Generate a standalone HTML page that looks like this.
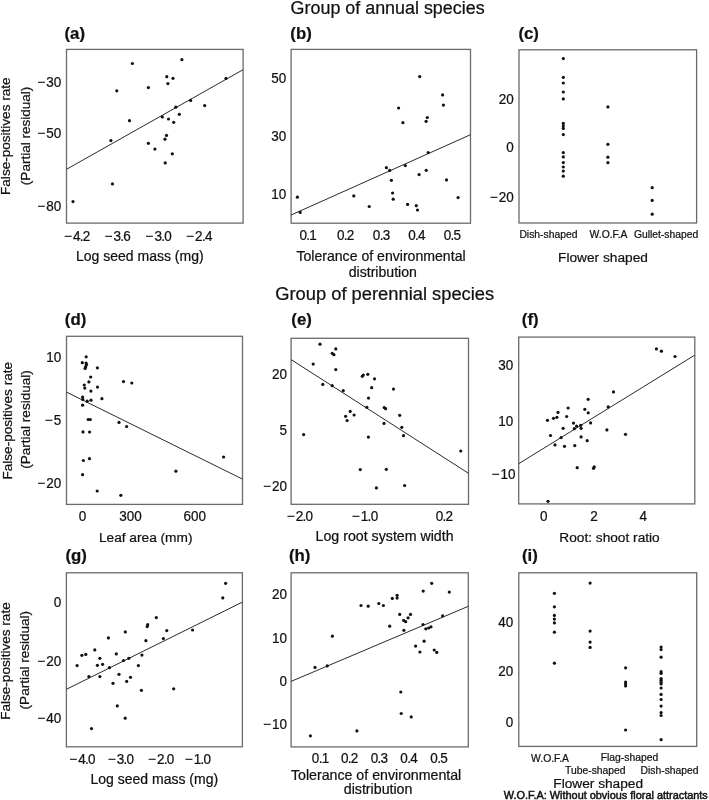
<!DOCTYPE html>
<html><head><meta charset="utf-8"><title>Figure</title>
<style>html,body{margin:0;padding:0;background:#fff;}body{width:709px;height:800px;overflow:hidden;font-family:"Liberation Sans", sans-serif;}svg{display:block;filter:grayscale(1);}text{stroke:#111;stroke-width:0.22px;}</style>
</head><body>
<svg width="709" height="800" viewBox="0 0 709 800" font-family='"Liberation Sans", sans-serif' fill="#111"><rect x="0" y="0" width="709" height="800" fill="#fff"/>
<text x="290.6" y="13.8" font-size="18" textLength="194" lengthAdjust="spacingAndGlyphs">Group of annual species</text>
<text x="275.2" y="300.1" font-size="18" textLength="219" lengthAdjust="spacingAndGlyphs">Group of perennial species</text>
<g><rect x="66.5" y="49.4" width="176.6" height="173.7" fill="none" stroke="#6a6a6a" stroke-width="1.3"/><line x1="66.5" y1="169.3" x2="243.1" y2="69.7" stroke="#2a2a2a" stroke-width="1"/><circle cx="132.4" cy="63.5" r="1.6"/><circle cx="116.8" cy="90.8" r="1.6"/><circle cx="148.4" cy="87.6" r="1.6"/><circle cx="129.5" cy="120.7" r="1.6"/><circle cx="110.9" cy="140.6" r="1.6"/><circle cx="148.4" cy="143.3" r="1.6"/><circle cx="181.9" cy="59.7" r="1.6"/><circle cx="166.8" cy="76.7" r="1.6"/><circle cx="173.0" cy="78.3" r="1.6"/><circle cx="167.9" cy="83.6" r="1.6"/><circle cx="226.0" cy="78.4" r="1.6"/><circle cx="190.6" cy="100.4" r="1.6"/><circle cx="175.8" cy="107.2" r="1.6"/><circle cx="204.7" cy="105.6" r="1.6"/><circle cx="179.3" cy="114.3" r="1.6"/><circle cx="162.3" cy="116.9" r="1.6"/><circle cx="168.5" cy="119.0" r="1.6"/><circle cx="173.7" cy="122.3" r="1.6"/><circle cx="166.5" cy="135.4" r="1.6"/><circle cx="165.0" cy="139.2" r="1.6"/><circle cx="154.9" cy="149.1" r="1.6"/><circle cx="112.5" cy="183.9" r="1.6"/><circle cx="73.0" cy="201.6" r="1.6"/><circle cx="172.3" cy="153.8" r="1.6"/><circle cx="165.2" cy="162.9" r="1.6"/><text transform="translate(61.3,87.25) scale(1,1.1)" font-size="13.5" text-anchor="end">−<tspan dx="0.9">30</tspan></text><text transform="translate(61.3,137.85) scale(1,1.1)" font-size="13.5" text-anchor="end">−<tspan dx="0.9">50</tspan></text><text transform="translate(61.3,211.25) scale(1,1.1)" font-size="13.5" text-anchor="end">−<tspan dx="0.9">80</tspan></text><text transform="translate(77.3,241.2) scale(1,1.1)" font-size="13.5" text-anchor="middle">−<tspan dx="0.9">4</tspan><tspan dx="-0.7">.</tspan><tspan dx="-0.7">2</tspan></text><text transform="translate(117.8,241.2) scale(1,1.1)" font-size="13.5" text-anchor="middle">−<tspan dx="0.9">3</tspan><tspan dx="-0.7">.</tspan><tspan dx="-0.7">6</tspan></text><text transform="translate(158.7,241.2) scale(1,1.1)" font-size="13.5" text-anchor="middle">−<tspan dx="0.9">3</tspan><tspan dx="-0.7">.</tspan><tspan dx="-0.7">0</tspan></text><text transform="translate(199.4,241.2) scale(1,1.1)" font-size="13.5" text-anchor="middle">−<tspan dx="0.9">2</tspan><tspan dx="-0.7">.</tspan><tspan dx="-0.7">4</tspan></text><text x="139.8" y="261.0" font-size="14.0" text-anchor="middle">Log seed mass (mg)</text><text x="64.5" y="38.8" font-size="16.8" font-weight="bold">(a)</text></g>
<g><rect x="291.1" y="49.4" width="179.4" height="173.8" fill="none" stroke="#6a6a6a" stroke-width="1.3"/><line x1="291.1" y1="215.0" x2="470.5" y2="134.7" stroke="#2a2a2a" stroke-width="1"/><circle cx="419.7" cy="76.6" r="1.6"/><circle cx="442.6" cy="94.9" r="1.6"/><circle cx="443.4" cy="105.1" r="1.6"/><circle cx="398.6" cy="108.0" r="1.6"/><circle cx="427.3" cy="117.5" r="1.6"/><circle cx="426.1" cy="121.3" r="1.6"/><circle cx="402.9" cy="122.7" r="1.6"/><circle cx="297.4" cy="197.2" r="1.6"/><circle cx="300.2" cy="212.4" r="1.6"/><circle cx="353.8" cy="195.9" r="1.6"/><circle cx="369.2" cy="206.5" r="1.6"/><circle cx="428.2" cy="152.6" r="1.6"/><circle cx="405.3" cy="165.6" r="1.6"/><circle cx="386.4" cy="167.7" r="1.6"/><circle cx="389.7" cy="170.4" r="1.6"/><circle cx="426.2" cy="170.3" r="1.6"/><circle cx="419.1" cy="174.6" r="1.6"/><circle cx="391.4" cy="180.3" r="1.6"/><circle cx="446.5" cy="179.9" r="1.6"/><circle cx="392.6" cy="193.0" r="1.6"/><circle cx="393.2" cy="199.2" r="1.6"/><circle cx="458.1" cy="197.6" r="1.6"/><circle cx="407.6" cy="204.4" r="1.6"/><circle cx="416.3" cy="205.7" r="1.6"/><circle cx="417.5" cy="210.0" r="1.6"/><text transform="translate(286.2,82.65) scale(1,1.1)" font-size="13.5" text-anchor="end">50</text><text transform="translate(286.2,140.65) scale(1,1.1)" font-size="13.5" text-anchor="end">30</text><text transform="translate(286.2,198.75) scale(1,1.1)" font-size="13.5" text-anchor="end">10</text><text transform="translate(308.2,239.6) scale(1,1.1)" font-size="13.5" text-anchor="middle"><tspan dx="0">0</tspan><tspan dx="-0.7">.</tspan><tspan dx="-0.7">1</tspan></text><text transform="translate(345.7,239.6) scale(1,1.1)" font-size="13.5" text-anchor="middle"><tspan dx="0">0</tspan><tspan dx="-0.7">.</tspan><tspan dx="-0.7">2</tspan></text><text transform="translate(381.5,239.6) scale(1,1.1)" font-size="13.5" text-anchor="middle"><tspan dx="0">0</tspan><tspan dx="-0.7">.</tspan><tspan dx="-0.7">3</tspan></text><text transform="translate(416.9,239.6) scale(1,1.1)" font-size="13.5" text-anchor="middle"><tspan dx="0">0</tspan><tspan dx="-0.7">.</tspan><tspan dx="-0.7">4</tspan></text><text transform="translate(452.4,239.6) scale(1,1.1)" font-size="13.5" text-anchor="middle"><tspan dx="0">0</tspan><tspan dx="-0.7">.</tspan><tspan dx="-0.7">5</tspan></text><text x="381.0" y="260.8" font-size="14.1" text-anchor="middle">Tolerance of environmental</text><text x="382.8" y="276.8" font-size="14.1" text-anchor="middle">distribution</text><text x="290.3" y="38.8" font-size="16.8" font-weight="bold">(b)</text></g>
<g><rect x="519.0" y="49.8" width="177.6" height="173.2" fill="none" stroke="#6a6a6a" stroke-width="1.3"/><circle cx="563.3" cy="58.6" r="1.6"/><circle cx="563.3" cy="77.3" r="1.6"/><circle cx="563.3" cy="83.0" r="1.6"/><circle cx="563.3" cy="92.0" r="1.6"/><circle cx="563.3" cy="98.9" r="1.6"/><circle cx="563.3" cy="123.4" r="1.6"/><circle cx="563.3" cy="126.0" r="1.6"/><circle cx="563.3" cy="128.4" r="1.6"/><circle cx="563.3" cy="134.6" r="1.6"/><circle cx="563.3" cy="152.6" r="1.6"/><circle cx="563.3" cy="156.9" r="1.6"/><circle cx="563.3" cy="162.6" r="1.6"/><circle cx="563.3" cy="167.0" r="1.6"/><circle cx="563.3" cy="171.1" r="1.6"/><circle cx="563.3" cy="176.2" r="1.6"/><circle cx="607.9" cy="106.9" r="1.6"/><circle cx="607.9" cy="144.3" r="1.6"/><circle cx="607.9" cy="157.2" r="1.6"/><circle cx="607.9" cy="162.7" r="1.6"/><circle cx="652.2" cy="187.7" r="1.6"/><circle cx="652.2" cy="200.4" r="1.6"/><circle cx="652.2" cy="214.2" r="1.6"/><text transform="translate(513.7,103.85) scale(1,1.1)" font-size="13.5" text-anchor="end">20</text><text transform="translate(513.7,152.45) scale(1,1.1)" font-size="13.5" text-anchor="end">0</text><text transform="translate(513.7,202.25) scale(1,1.1)" font-size="13.5" text-anchor="end">−<tspan dx="0.9">20</tspan></text><text x="519.4" y="237.6" font-size="10.35" text-anchor="start">Dish-shaped</text><text x="589.6" y="237.6" font-size="10.35" text-anchor="start">W.O.F.A</text><text x="633.9" y="237.6" font-size="10.35" text-anchor="start">Gullet-shaped</text><text x="603.0" y="262.0" font-size="13.7" text-anchor="middle">Flower shaped</text><text x="518.4" y="38.8" font-size="16.8" font-weight="bold">(c)</text></g>
<g><rect x="66.5" y="336.3" width="176.0" height="168.1" fill="none" stroke="#6a6a6a" stroke-width="1.3"/><line x1="66.5" y1="392.1" x2="242.5" y2="479.1" stroke="#2a2a2a" stroke-width="1"/><circle cx="86.2" cy="356.8" r="1.6"/><circle cx="82.3" cy="362.7" r="1.6"/><circle cx="86.1" cy="363.1" r="1.6"/><circle cx="86.5" cy="364.6" r="1.6"/><circle cx="85.7" cy="366.7" r="1.6"/><circle cx="85.1" cy="368.4" r="1.6"/><circle cx="97.4" cy="367.8" r="1.6"/><circle cx="90.7" cy="377.0" r="1.6"/><circle cx="88.9" cy="381.9" r="1.6"/><circle cx="123.5" cy="381.6" r="1.6"/><circle cx="131.8" cy="383.0" r="1.6"/><circle cx="84.3" cy="385.0" r="1.6"/><circle cx="84.8" cy="388.1" r="1.6"/><circle cx="97.5" cy="387.1" r="1.6"/><circle cx="90.9" cy="391.1" r="1.6"/><circle cx="82.6" cy="397.0" r="1.6"/><circle cx="82.8" cy="399.4" r="1.6"/><circle cx="101.9" cy="398.7" r="1.6"/><circle cx="87.2" cy="401.2" r="1.6"/><circle cx="91.0" cy="400.2" r="1.6"/><circle cx="82.6" cy="405.2" r="1.6"/><circle cx="88.2" cy="419.5" r="1.6"/><circle cx="90.3" cy="419.5" r="1.6"/><circle cx="119.0" cy="422.4" r="1.6"/><circle cx="126.6" cy="426.5" r="1.6"/><circle cx="83.0" cy="431.9" r="1.6"/><circle cx="89.6" cy="432.0" r="1.6"/><circle cx="83.4" cy="460.5" r="1.6"/><circle cx="89.5" cy="458.7" r="1.6"/><circle cx="82.6" cy="474.7" r="1.6"/><circle cx="97.2" cy="491.0" r="1.6"/><circle cx="120.8" cy="495.3" r="1.6"/><circle cx="223.6" cy="457.0" r="1.6"/><circle cx="175.9" cy="471.2" r="1.6"/><text transform="translate(61.3,361.55) scale(1,1.1)" font-size="13.5" text-anchor="end">10</text><text transform="translate(61.3,425.05) scale(1,1.1)" font-size="13.5" text-anchor="end">−<tspan dx="0.9">5</tspan></text><text transform="translate(61.3,488.45) scale(1,1.1)" font-size="13.5" text-anchor="end">−<tspan dx="0.9">20</tspan></text><text transform="translate(82.4,521.0) scale(1,1.1)" font-size="13.5" text-anchor="middle">0</text><text transform="translate(130.4,521.0) scale(1,1.1)" font-size="13.5" text-anchor="middle">300</text><text transform="translate(194.7,521.0) scale(1,1.1)" font-size="13.5" text-anchor="middle">600</text><text x="145.7" y="541.5" font-size="13.7" text-anchor="middle">Leaf area (mm)</text><text x="64.8" y="324.8" font-size="16.8" font-weight="bold">(d)</text></g>
<g><rect x="291.1" y="338.3" width="177.4" height="166.0" fill="none" stroke="#6a6a6a" stroke-width="1.3"/><line x1="291.1" y1="359.6" x2="468.5" y2="473.3" stroke="#2a2a2a" stroke-width="1"/><circle cx="320.0" cy="344.2" r="1.6"/><circle cx="335.8" cy="348.9" r="1.6"/><circle cx="332.2" cy="353.3" r="1.6"/><circle cx="333.9" cy="354.7" r="1.6"/><circle cx="313.2" cy="364.1" r="1.6"/><circle cx="335.8" cy="369.6" r="1.6"/><circle cx="362.3" cy="376.3" r="1.6"/><circle cx="363.3" cy="375.1" r="1.6"/><circle cx="367.8" cy="374.3" r="1.6"/><circle cx="374.5" cy="378.8" r="1.6"/><circle cx="322.8" cy="384.4" r="1.6"/><circle cx="332.2" cy="385.7" r="1.6"/><circle cx="343.3" cy="390.6" r="1.6"/><circle cx="371.7" cy="387.7" r="1.6"/><circle cx="368.5" cy="398.1" r="1.6"/><circle cx="366.8" cy="407.3" r="1.6"/><circle cx="384.2" cy="407.6" r="1.6"/><circle cx="385.6" cy="408.7" r="1.6"/><circle cx="350.2" cy="411.4" r="1.6"/><circle cx="354.1" cy="415.0" r="1.6"/><circle cx="345.6" cy="416.3" r="1.6"/><circle cx="347.1" cy="420.5" r="1.6"/><circle cx="384.0" cy="423.4" r="1.6"/><circle cx="393.5" cy="389.1" r="1.6"/><circle cx="399.7" cy="415.3" r="1.6"/><circle cx="401.8" cy="427.3" r="1.6"/><circle cx="303.6" cy="434.6" r="1.6"/><circle cx="368.4" cy="437.1" r="1.6"/><circle cx="360.3" cy="469.6" r="1.6"/><circle cx="376.4" cy="487.9" r="1.6"/><circle cx="403.5" cy="435.7" r="1.6"/><circle cx="460.8" cy="451.0" r="1.6"/><circle cx="386.3" cy="469.3" r="1.6"/><circle cx="404.6" cy="485.5" r="1.6"/><text transform="translate(287.0,379.25) scale(1,1.1)" font-size="13.5" text-anchor="end">20</text><text transform="translate(287.0,434.65) scale(1,1.1)" font-size="13.5" text-anchor="end">5</text><text transform="translate(287.0,491.25) scale(1,1.1)" font-size="13.5" text-anchor="end">−<tspan dx="0.9">20</tspan></text><text transform="translate(300.0,520.5) scale(1,1.1)" font-size="13.5" text-anchor="middle">−<tspan dx="0.9">2</tspan><tspan dx="-0.7">.</tspan><tspan dx="-0.7">0</tspan></text><text transform="translate(365.1,520.5) scale(1,1.1)" font-size="13.5" text-anchor="middle">−<tspan dx="0.9">1</tspan><tspan dx="-0.7">.</tspan><tspan dx="-0.7">0</tspan></text><text transform="translate(444.4,520.5) scale(1,1.1)" font-size="13.5" text-anchor="middle"><tspan dx="0">0</tspan><tspan dx="-0.7">.</tspan><tspan dx="-0.7">2</tspan></text><text x="384.6" y="540.7" font-size="14.2" text-anchor="middle">Log root system width</text><text x="291.3" y="324.8" font-size="16.8" font-weight="bold">(e)</text></g>
<g><rect x="518.7" y="337.1" width="176.1" height="166.8" fill="none" stroke="#6a6a6a" stroke-width="1.3"/><line x1="518.7" y1="463.7" x2="694.8" y2="355.1" stroke="#2a2a2a" stroke-width="1"/><circle cx="588.2" cy="399.3" r="1.6"/><circle cx="568.1" cy="408.0" r="1.6"/><circle cx="584.8" cy="409.3" r="1.6"/><circle cx="558.0" cy="412.4" r="1.6"/><circle cx="588.2" cy="412.8" r="1.6"/><circle cx="566.7" cy="416.5" r="1.6"/><circle cx="556.9" cy="417.3" r="1.6"/><circle cx="553.5" cy="418.3" r="1.6"/><circle cx="547.5" cy="420.3" r="1.6"/><circle cx="608.2" cy="406.9" r="1.6"/><circle cx="590.6" cy="422.9" r="1.6"/><circle cx="573.5" cy="423.1" r="1.6"/><circle cx="576.6" cy="426.2" r="1.6"/><circle cx="580.7" cy="425.3" r="1.6"/><circle cx="563.1" cy="428.3" r="1.6"/><circle cx="574.3" cy="428.7" r="1.6"/><circle cx="581.1" cy="428.3" r="1.6"/><circle cx="606.9" cy="429.9" r="1.6"/><circle cx="656.4" cy="348.9" r="1.6"/><circle cx="661.4" cy="351.2" r="1.6"/><circle cx="675.0" cy="356.5" r="1.6"/><circle cx="613.5" cy="391.9" r="1.6"/><circle cx="550.5" cy="435.5" r="1.6"/><circle cx="561.1" cy="437.6" r="1.6"/><circle cx="581.1" cy="436.9" r="1.6"/><circle cx="587.2" cy="440.7" r="1.6"/><circle cx="555.0" cy="444.9" r="1.6"/><circle cx="564.5" cy="446.3" r="1.6"/><circle cx="574.8" cy="445.6" r="1.6"/><circle cx="577.2" cy="467.7" r="1.6"/><circle cx="593.5" cy="468.3" r="1.6"/><circle cx="594.2" cy="466.9" r="1.6"/><circle cx="548.0" cy="501.3" r="1.6"/><circle cx="625.5" cy="434.3" r="1.6"/><text transform="translate(513.2,369.85) scale(1,1.1)" font-size="13.5" text-anchor="end">30</text><text transform="translate(513.2,425.55) scale(1,1.1)" font-size="13.5" text-anchor="end">10</text><text transform="translate(515.6,479.25) scale(1,1.1)" font-size="13.5" text-anchor="end">−<tspan dx="0.9">10</tspan></text><text transform="translate(543.7,520.8) scale(1,1.1)" font-size="13.5" text-anchor="middle">0</text><text transform="translate(594.0,520.8) scale(1,1.1)" font-size="13.5" text-anchor="middle">2</text><text transform="translate(643.3,520.8) scale(1,1.1)" font-size="13.5" text-anchor="middle">4</text><text x="609.5" y="541.5" font-size="13.7" text-anchor="middle">Root: shoot ratio</text><text x="521.8" y="324.8" font-size="16.8" font-weight="bold">(f)</text></g>
<g><rect x="66.4" y="572.8" width="176.0" height="174.0" fill="none" stroke="#6a6a6a" stroke-width="1.3"/><line x1="66.4" y1="689.3" x2="242.4" y2="602.1" stroke="#2a2a2a" stroke-width="1"/><circle cx="156.3" cy="617.6" r="1.6"/><circle cx="147.7" cy="624.7" r="1.6"/><circle cx="147.2" cy="626.6" r="1.6"/><circle cx="125.3" cy="631.9" r="1.6"/><circle cx="108.4" cy="637.9" r="1.6"/><circle cx="145.9" cy="640.7" r="1.6"/><circle cx="94.8" cy="649.9" r="1.6"/><circle cx="81.9" cy="655.3" r="1.6"/><circle cx="85.8" cy="654.4" r="1.6"/><circle cx="116.3" cy="653.9" r="1.6"/><circle cx="141.9" cy="655.1" r="1.6"/><circle cx="99.9" cy="658.3" r="1.6"/><circle cx="128.8" cy="658.3" r="1.6"/><circle cx="123.5" cy="660.5" r="1.6"/><circle cx="225.6" cy="583.3" r="1.6"/><circle cx="222.8" cy="597.9" r="1.6"/><circle cx="166.8" cy="630.6" r="1.6"/><circle cx="163.4" cy="638.6" r="1.6"/><circle cx="192.6" cy="630.0" r="1.6"/><circle cx="77.1" cy="665.6" r="1.6"/><circle cx="97.4" cy="665.3" r="1.6"/><circle cx="102.6" cy="664.3" r="1.6"/><circle cx="109.4" cy="667.7" r="1.6"/><circle cx="138.4" cy="665.6" r="1.6"/><circle cx="88.9" cy="676.6" r="1.6"/><circle cx="99.9" cy="676.6" r="1.6"/><circle cx="119.0" cy="674.3" r="1.6"/><circle cx="130.5" cy="677.3" r="1.6"/><circle cx="126.7" cy="681.4" r="1.6"/><circle cx="113.0" cy="683.3" r="1.6"/><circle cx="141.4" cy="690.3" r="1.6"/><circle cx="117.3" cy="705.9" r="1.6"/><circle cx="125.2" cy="718.2" r="1.6"/><circle cx="91.5" cy="728.6" r="1.6"/><circle cx="173.7" cy="688.8" r="1.6"/><text transform="translate(61.3,607.25) scale(1,1.1)" font-size="13.5" text-anchor="end">0</text><text transform="translate(61.3,665.55) scale(1,1.1)" font-size="13.5" text-anchor="end">−<tspan dx="0.9">20</tspan></text><text transform="translate(61.3,723.05) scale(1,1.1)" font-size="13.5" text-anchor="end">−<tspan dx="0.9">40</tspan></text><text transform="translate(82.5,764.2) scale(1,1.1)" font-size="13.5" text-anchor="middle">−<tspan dx="0.9">4</tspan><tspan dx="-0.7">.</tspan><tspan dx="-0.7">0</tspan></text><text transform="translate(121.0,764.2) scale(1,1.1)" font-size="13.5" text-anchor="middle">−<tspan dx="0.9">3</tspan><tspan dx="-0.7">.</tspan><tspan dx="-0.7">0</tspan></text><text transform="translate(161.3,764.2) scale(1,1.1)" font-size="13.5" text-anchor="middle">−<tspan dx="0.9">2</tspan><tspan dx="-0.7">.</tspan><tspan dx="-0.7">0</tspan></text><text transform="translate(198.0,764.2) scale(1,1.1)" font-size="13.5" text-anchor="middle">−<tspan dx="0.9">1</tspan><tspan dx="-0.7">.</tspan><tspan dx="-0.7">0</tspan></text><text x="154.3" y="784.2" font-size="14.0" text-anchor="middle">Log seed mass (mg)</text><text x="65.5" y="560.9" font-size="16.8" font-weight="bold">(g)</text></g>
<g><rect x="291.1" y="572.8" width="177.2" height="174.1" fill="none" stroke="#6a6a6a" stroke-width="1.3"/><line x1="291.1" y1="681.4" x2="468.3" y2="606.3" stroke="#2a2a2a" stroke-width="1"/><circle cx="361.0" cy="605.5" r="1.6"/><circle cx="368.2" cy="606.2" r="1.6"/><circle cx="378.8" cy="603.5" r="1.6"/><circle cx="383.4" cy="605.5" r="1.6"/><circle cx="332.4" cy="636.2" r="1.6"/><circle cx="431.7" cy="583.3" r="1.6"/><circle cx="423.2" cy="591.1" r="1.6"/><circle cx="449.3" cy="592.1" r="1.6"/><circle cx="397.1" cy="595.3" r="1.6"/><circle cx="397.1" cy="598.1" r="1.6"/><circle cx="392.3" cy="598.4" r="1.6"/><circle cx="399.7" cy="614.4" r="1.6"/><circle cx="410.5" cy="614.4" r="1.6"/><circle cx="408.1" cy="617.8" r="1.6"/><circle cx="403.6" cy="620.3" r="1.6"/><circle cx="405.7" cy="621.7" r="1.6"/><circle cx="442.6" cy="615.8" r="1.6"/><circle cx="389.7" cy="626.2" r="1.6"/><circle cx="423.0" cy="624.5" r="1.6"/><circle cx="425.8" cy="628.8" r="1.6"/><circle cx="428.6" cy="628.0" r="1.6"/><circle cx="431.0" cy="626.8" r="1.6"/><circle cx="403.9" cy="630.3" r="1.6"/><circle cx="424.1" cy="641.2" r="1.6"/><circle cx="415.6" cy="646.1" r="1.6"/><circle cx="419.9" cy="652.0" r="1.6"/><circle cx="434.2" cy="650.0" r="1.6"/><circle cx="436.8" cy="652.4" r="1.6"/><circle cx="315.0" cy="667.4" r="1.6"/><circle cx="327.2" cy="665.9" r="1.6"/><circle cx="310.4" cy="735.8" r="1.6"/><circle cx="356.9" cy="730.9" r="1.6"/><circle cx="400.8" cy="692.0" r="1.6"/><circle cx="401.2" cy="713.5" r="1.6"/><circle cx="411.2" cy="716.9" r="1.6"/><text transform="translate(287.0,599.25) scale(1,1.1)" font-size="13.5" text-anchor="end">20</text><text transform="translate(287.0,642.65) scale(1,1.1)" font-size="13.5" text-anchor="end">10</text><text transform="translate(287.0,686.25) scale(1,1.1)" font-size="13.5" text-anchor="end">0</text><text transform="translate(287.0,729.25) scale(1,1.1)" font-size="13.5" text-anchor="end">−<tspan dx="0.9">10</tspan></text><text transform="translate(320.5,763.2) scale(1,1.1)" font-size="13.5" text-anchor="middle"><tspan dx="0">0</tspan><tspan dx="-0.7">.</tspan><tspan dx="-0.7">1</tspan></text><text transform="translate(349.6,763.2) scale(1,1.1)" font-size="13.5" text-anchor="middle"><tspan dx="0">0</tspan><tspan dx="-0.7">.</tspan><tspan dx="-0.7">2</tspan></text><text transform="translate(379.4,763.2) scale(1,1.1)" font-size="13.5" text-anchor="middle"><tspan dx="0">0</tspan><tspan dx="-0.7">.</tspan><tspan dx="-0.7">3</tspan></text><text transform="translate(409.0,763.2) scale(1,1.1)" font-size="13.5" text-anchor="middle"><tspan dx="0">0</tspan><tspan dx="-0.7">.</tspan><tspan dx="-0.7">4</tspan></text><text transform="translate(439.0,763.2) scale(1,1.1)" font-size="13.5" text-anchor="middle"><tspan dx="0">0</tspan><tspan dx="-0.7">.</tspan><tspan dx="-0.7">5</tspan></text><text x="376.1" y="779.7" font-size="14.2" text-anchor="middle">Tolerance of environmental</text><text x="378.1" y="794.0" font-size="14.2" text-anchor="middle">distribution</text><text x="289.0" y="560.9" font-size="16.8" font-weight="bold">(h)</text></g>
<g><rect x="518.8" y="572.8" width="177.9" height="173.6" fill="none" stroke="#6a6a6a" stroke-width="1.3"/><circle cx="554.4" cy="593.3" r="1.6"/><circle cx="554.4" cy="606.8" r="1.6"/><circle cx="554.4" cy="615.4" r="1.6"/><circle cx="554.4" cy="619.1" r="1.6"/><circle cx="554.4" cy="622.9" r="1.6"/><circle cx="554.4" cy="632.2" r="1.6"/><circle cx="554.4" cy="663.2" r="1.6"/><circle cx="590.1" cy="583.1" r="1.6"/><circle cx="590.1" cy="631.1" r="1.6"/><circle cx="590.1" cy="642.1" r="1.6"/><circle cx="590.1" cy="647.4" r="1.6"/><circle cx="625.6" cy="667.8" r="1.6"/><circle cx="625.6" cy="682.0" r="1.6"/><circle cx="625.6" cy="684.0" r="1.6"/><circle cx="625.6" cy="686.0" r="1.6"/><circle cx="625.6" cy="730.0" r="1.6"/><circle cx="661.1" cy="647.1" r="1.6"/><circle cx="661.1" cy="649.6" r="1.6"/><circle cx="661.1" cy="657.2" r="1.6"/><circle cx="661.1" cy="671.7" r="1.6"/><circle cx="661.1" cy="673.4" r="1.6"/><circle cx="661.1" cy="678.5" r="1.6"/><circle cx="661.1" cy="680.2" r="1.6"/><circle cx="661.1" cy="682.3" r="1.6"/><circle cx="661.1" cy="684.0" r="1.6"/><circle cx="661.1" cy="688.0" r="1.6"/><circle cx="661.1" cy="694.4" r="1.6"/><circle cx="661.1" cy="699.5" r="1.6"/><circle cx="661.1" cy="706.1" r="1.6"/><circle cx="661.1" cy="712.6" r="1.6"/><circle cx="661.1" cy="715.5" r="1.6"/><circle cx="661.1" cy="739.7" r="1.6"/><text transform="translate(513.2,626.65) scale(1,1.1)" font-size="13.5" text-anchor="end">40</text><text transform="translate(513.2,676.25) scale(1,1.1)" font-size="13.5" text-anchor="end">20</text><text transform="translate(513.2,726.65) scale(1,1.1)" font-size="13.5" text-anchor="end">0</text><text x="531.1" y="761.8" font-size="10.35" text-anchor="start">W.O.F.A</text><text x="600.7" y="760.7" font-size="10.35" text-anchor="start">Flag-shaped</text><text x="565.0" y="773.5" font-size="10.35" text-anchor="start">Tube-shaped</text><text x="640.5" y="773.5" font-size="10.35" text-anchor="start">Dish-shaped</text><text x="598.2" y="788.0" font-size="13.7" text-anchor="middle">Flower shaped</text><text x="522.0" y="560.9" font-size="16.8" font-weight="bold">(i)</text></g>
<text transform="translate(10.3,136.2) rotate(-90)" font-size="13.7" text-anchor="middle" textLength="117.5" lengthAdjust="spacingAndGlyphs">False-positives rate</text>
<text transform="translate(29.5,135.9) rotate(-90)" font-size="13.7" text-anchor="middle" textLength="98.5" lengthAdjust="spacingAndGlyphs">(Partial residual)</text>
<text transform="translate(12.0,420.75) rotate(-90)" font-size="13.7" text-anchor="middle" textLength="117.5" lengthAdjust="spacingAndGlyphs">False-positives rate</text>
<text transform="translate(30.4,419.5) rotate(-90)" font-size="13.7" text-anchor="middle" textLength="98.5" lengthAdjust="spacingAndGlyphs">(Partial residual)</text>
<text transform="translate(10.25,661.05) rotate(-90)" font-size="13.7" text-anchor="middle" textLength="117.5" lengthAdjust="spacingAndGlyphs">False-positives rate</text>
<text transform="translate(28.5,660.15) rotate(-90)" font-size="13.7" text-anchor="middle" textLength="98.5" lengthAdjust="spacingAndGlyphs">(Partial residual)</text>
<text x="503.8" y="799.0" font-size="10.2" style="stroke:#111;stroke-width:0.45px" textLength="204" lengthAdjust="spacingAndGlyphs">W.O.F.A: Without obvious floral attractants</text></svg>
</body></html>
